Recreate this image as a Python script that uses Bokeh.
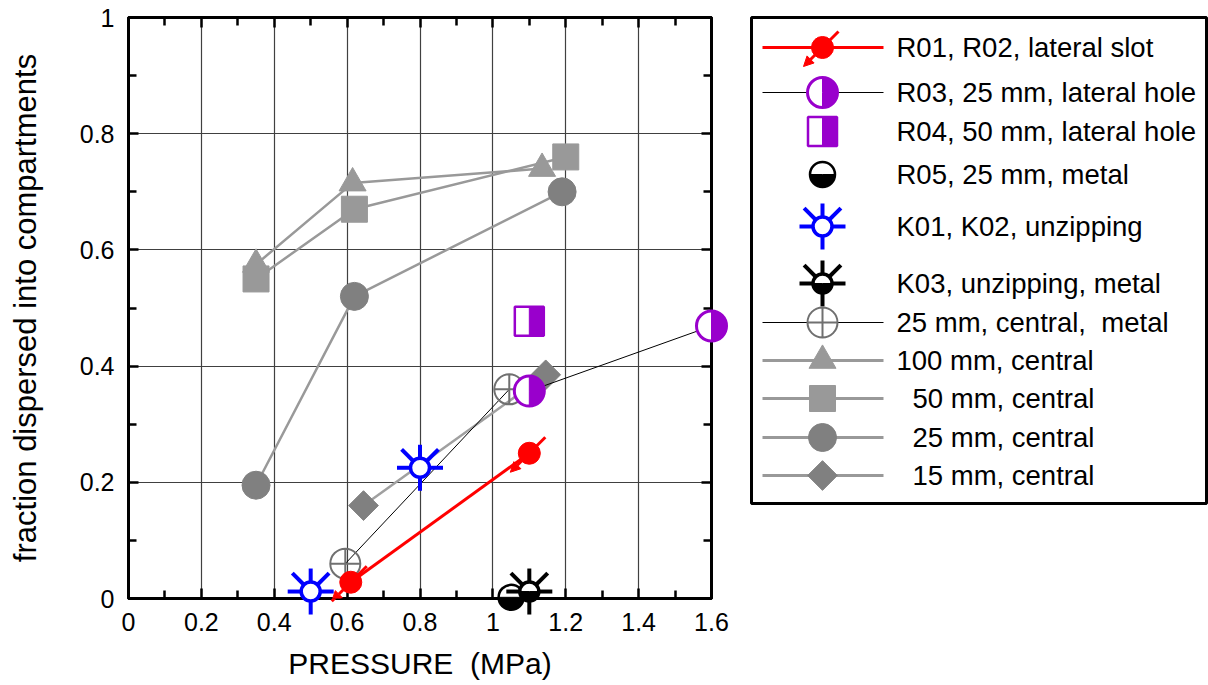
import math
from bokeh.plotting import figure
from bokeh.layouts import row
from bokeh.models import (FixedTicker, LinearAxis, CustomJSTickFormatter, Range1d,
                          ColumnDataSource, Arrow, NormalHead)
from bokeh.core.properties import value
from bokeh.embed import file_html
from bokeh.resources import INLINE

FONT = "Liberation Sans"
RED = "#FF0000"
PURPLE = "#9900CC"
BLUE = "#0000FF"
LGRAY = "#999999"
DGRAY = "#808080"
MGRAY = "#707070"
NB = "\u00a0"

# ---------------- data ----------------
tri_x = [0.35, 0.615, 1.135]          # 100 mm, central
tri_y = [0.575, 0.715, 0.74]
sq_x = [0.35, 0.62, 1.2]              # 50 mm, central
sq_y = [0.55, 0.67, 0.76]
circ_x = [0.35, 0.62, 1.19]           # 25 mm, central
circ_y = [0.195, 0.52, 0.70]
dia_x = [0.645, 1.145]                # 15 mm, central
dia_y = [0.16, 0.385]
metal_x = [0.595, 1.045]              # 25 mm, central, metal
metal_y = [0.06, 0.36]
r03_x = [1.1, 1.6]                    # R03, 25 mm, lateral hole
r03_y = [0.357, 0.469]
r04_x = [1.1]                         # R04, 50 mm, lateral hole
r04_y = [0.477]
r05_x = [1.05]                        # R05, 25 mm, metal
r05_y = [0.002]
k01_x = [0.5, 0.8]                    # K01, K02, unzipping
k01_y = [0.012, 0.225]
k03_x = [1.1]                         # K03, unzipping, metal
k03_y = [0.012]
r01_x = [0.61, 1.1]                   # R01, R02, lateral slot
r01_y = [0.028, 0.25]

x_ticks = [0, 0.2, 0.4, 0.6, 0.8, 1.0, 1.2, 1.4, 1.6]
y_ticks = [0, 0.2, 0.4, 0.6, 0.8, 1.0]
x_minor = [0.1, 0.3, 0.5, 0.7, 0.9, 1.1, 1.3, 1.5]
y_minor = [0.1, 0.3, 0.5, 0.7, 0.9]

legend_labels = ["R01, R02, lateral slot", "R03, 25 mm, lateral hole",
                 "R04, 50 mm, lateral hole", "R05, 25 mm, metal",
                 "K01, K02, unzipping", "K03, unzipping, metal",
                 "25 mm, central," + NB + " metal", "100 mm, central",
                 "50 mm, central", "25 mm, central", "15 mm, central"]

# ---------------- marker helpers ----------------
LVL = "overlay"
RAY_ANG = [math.pi / 2, -math.pi / 2, 0.0, math.pi, math.pi / 4, 3 * math.pi / 4]
RAY_LEN = [23, 23, 23, 23, 26, 26]


def sun(f, xs, ys, color, half=False):
    rx, ry_, ra, rl = [], [], [], []
    for x, y in zip(xs, ys):
        for a, l in zip(RAY_ANG, RAY_LEN):
            rx.append(x); ry_.append(y); ra.append(a); rl.append(l)
    f.ray(x=rx, y=ry_, angle=ra, length=rl, length_units="screen",
          line_color=color, line_width=4, level=LVL)
    f.scatter(xs, ys, marker="circle", size=19, fill_color="white",
              line_color=color, line_width=3.5, level=LVL)
    if half:
        f.wedge(x=xs, y=ys, radius=9.5, radius_units="screen",
                start_angle=math.pi, end_angle=2 * math.pi,
                fill_color=color, line_color=color, level=LVL)


def r01_marker(f, xs, ys, kx, ky):
    src = ColumnDataSource(dict(x0=[x + 16 * kx for x in xs], y0=[y + 16 * ky for y in ys],
                                x1=[x - 19 * kx for x in xs], y1=[y - 19 * ky for y in ys]))
    f.add_layout(Arrow(source=src, x_start="x0", y_start="y0", x_end="x1", y_end="y1",
                       line_color=RED, line_width=3, level=LVL,
                       end=NormalHead(size=10, fill_color=RED, line_color=RED)))
    f.scatter(xs, ys, marker="circle", size=22, fill_color=RED, line_color=RED, level=LVL)


def r03_marker(f, xs, ys):
    f.scatter(xs, ys, marker="circle", size=30, fill_color="white",
              line_color=PURPLE, line_width=3, level=LVL)
    f.wedge(x=xs, y=ys, radius=15, radius_units="screen",
            start_angle=-math.pi / 2, end_angle=math.pi / 2,
            fill_color=PURPLE, line_color=PURPLE, level=LVL)


def r04_marker(f, xs, ys, kx):
    f.scatter(xs, ys, marker="square", size=29, fill_color="white",
              line_color=PURPLE, line_width=2.5, level=LVL)
    f.rect(x=[x + 7.25 * kx for x in xs], y=ys, width=14.5, height=29,
           width_units="screen", height_units="screen",
           fill_color=PURPLE, line_color=PURPLE, level=LVL)


def r05_marker(f, xs, ys):
    f.scatter(xs, ys, marker="circle", size=25, fill_color="white",
              line_color="black", line_width=2.5, level=LVL)
    f.wedge(x=xs, y=ys, radius=12.5, radius_units="screen",
            start_angle=math.pi, end_angle=2 * math.pi,
            fill_color="black", line_color="black", level=LVL)


def metal_marker(f, xs, ys):
    f.scatter(xs, ys, marker="circle_cross", size=30, fill_color=None,
              line_color=MGRAY, line_width=2, level=LVL)


def tri_marker(f, xs, ys):
    f.scatter(xs, ys, marker="triangle", size=27, fill_color=LGRAY, line_color=LGRAY, level=LVL)


def sq_marker(f, xs, ys):
    f.scatter(xs, ys, marker="square", size=26, fill_color=LGRAY, line_color=LGRAY, level=LVL)


def circ_marker(f, xs, ys):
    f.scatter(xs, ys, marker="circle", size=28, fill_color=DGRAY, line_color=DGRAY, level=LVL)


def dia_marker(f, xs, ys):
    f.scatter(xs, ys, marker="square", angle=math.pi / 4, size=21,
              fill_color=DGRAY, line_color=DGRAY, level=LVL)


# ---------------- main plot ----------------
W, H = 740, 685
ML, MR, MT, MB = 128, 29, 17, 87
p = figure(width=W, height=H, x_range=Range1d(0, 1.6), y_range=Range1d(0, 1),
           min_border_left=ML, min_border_right=MR, min_border_top=MT, min_border_bottom=MB,
           output_backend="svg", toolbar_location=None)
kx = 1.6 / (W - ML - MR)
ky = 1.0 / (H - MT - MB)

p.add_layout(LinearAxis(), "above")
p.add_layout(LinearAxis(), "right")


def style_axis(ax, ticks, minor, labels):
    ax.ticker = FixedTicker(ticks=ticks, minor_ticks=minor)
    ax.major_tick_in = 10
    ax.major_tick_out = 0
    ax.minor_tick_in = 8
    ax.minor_tick_out = 0
    ax.major_tick_line_width = 2.5
    ax.minor_tick_line_width = 2.5
    ax.major_tick_line_color = "black"
    ax.minor_tick_line_color = "black"
    ax.axis_line_width = 3
    ax.axis_line_color = "black"
    ax.major_label_text_font = FONT
    ax.major_label_text_font_size = "25px"
    ax.major_label_text_color = "black"
    ax.major_label_standoff = 14
    if labels:
        ax.formatter = CustomJSTickFormatter(code="return (Math.round(tick*10)/10).toString()")
    else:
        ax.formatter = CustomJSTickFormatter(code="return ''")


xb, xa, yl, yr = p.below[0], p.above[0], p.left[0], p.right[0]
style_axis(xb, x_ticks, x_minor, True)
style_axis(xa, x_ticks, x_minor, False)
style_axis(yl, y_ticks, y_minor, True)
style_axis(yr, y_ticks, y_minor, False)

xb.axis_label = "PRESSURE" + NB + " (MPa)"
yl.axis_label = "fraction dispersed into compartments"
for ax in (xb, yl):
    ax.axis_label_text_font = FONT
    ax.axis_label_text_font_style = "normal"
    ax.axis_label_text_color = "black"
xb.axis_label_text_font_size = "30px"
yl.axis_label_text_font_size = "31px"
xb.axis_label_standoff = 13
yl.axis_label_standoff = 34

p.xgrid.ticker = FixedTicker(ticks=x_ticks)
p.ygrid.ticker = FixedTicker(ticks=y_ticks)
p.grid.grid_line_color = "#404040"
p.grid.grid_line_width = 1.2
p.outline_line_color = "black"
p.outline_line_width = 3

# lines
p.line(tri_x, tri_y, line_color=LGRAY, line_width=2.5)
p.line(sq_x, sq_y, line_color=LGRAY, line_width=2.5)
p.line(circ_x, circ_y, line_color=LGRAY, line_width=2.5)
p.line(dia_x, dia_y, line_color="#A0A0A0", line_width=2.5)

tri_marker(p, tri_x, tri_y)
sq_marker(p, sq_x, sq_y)
circ_marker(p, circ_x, circ_y)
dia_marker(p, dia_x, dia_y)

p.line(metal_x, metal_y, line_color="black", line_width=1, level=LVL)
metal_marker(p, metal_x, metal_y)
p.line(r03_x, r03_y, line_color="black", line_width=1, level=LVL)
r03_marker(p, r03_x, r03_y)
r04_marker(p, r04_x, r04_y, kx)
r05_marker(p, r05_x, r05_y)
sun(p, k03_x, k03_y, "black", half=True)
sun(p, k01_x, k01_y, BLUE)
p.line(r01_x, r01_y, line_color=RED, line_width=3, level=LVL)
r01_marker(p, r01_x, r01_y, kx, ky)

# ---------------- legend panel ----------------
# same vertical borders as the main plot (row layouts align frames)
LW = 468
LFW = 455
LFH = H - MT - MB
BOX_H = 486
lg = figure(width=LW, height=H, x_range=Range1d(0, LFW), y_range=Range1d(0, LFH),
            min_border_left=11, min_border_right=LW - 11 - LFW, min_border_top=MT,
            min_border_bottom=MB, x_axis_location=None, y_axis_location=None,
            output_backend="svg", toolbar_location=None)
lg.grid.visible = False
lg.outline_line_color = None
lg.quad(left=[0], right=[LFW], bottom=[LFH - BOX_H], top=[LFH], fill_color=None,
        line_color="black", line_width=3, level=LVL)

row_top = [30, 75, 114, 157, 209, 266, 305, 343, 381, 420, 458]
ry = [LFH - t for t in row_top]
indent = [0, 0, 0, 0, 0, 0, 0, 0, 16, 16, 16]
LX0, LX1, MX, TX = 11, 132, 71, 145

# legend lines
lg.segment(x0=[LX0], y0=[ry[0]], x1=[LX1], y1=[ry[0]], line_color=RED, line_width=3)
lg.segment(x0=[LX0, LX0], y0=[ry[1], ry[6]], x1=[LX1, LX1], y1=[ry[1], ry[6]],
           line_color="black", line_width=1)
lg.segment(x0=[LX0] * 4, y0=ry[7:11], x1=[LX1] * 4, y1=ry[7:11],
           line_color=LGRAY, line_width=3)

r01_marker(lg, [MX], [ry[0]], 1, 1)
r03_marker(lg, [MX], [ry[1]])
r04_marker(lg, [MX], [ry[2]], 1)
r05_marker(lg, [MX], [ry[3]])
sun(lg, [MX], [ry[4]], BLUE)
sun(lg, [MX], [ry[5]], "black", half=True)
metal_marker(lg, [MX], [ry[6]])
tri_marker(lg, [MX], [ry[7]])
sq_marker(lg, [MX], [ry[8]])
circ_marker(lg, [MX], [ry[9]])
dia_marker(lg, [MX], [ry[10]])

lg.text(x=[TX + d for d in indent], y=ry, text=legend_labels,
        text_font=value(FONT), text_font_size=value("27.5px"),
        text_baseline="middle", text_align="left", text_color="black")

layout = row(p, lg)
open("out.html", "w").write(file_html(layout, INLINE))
